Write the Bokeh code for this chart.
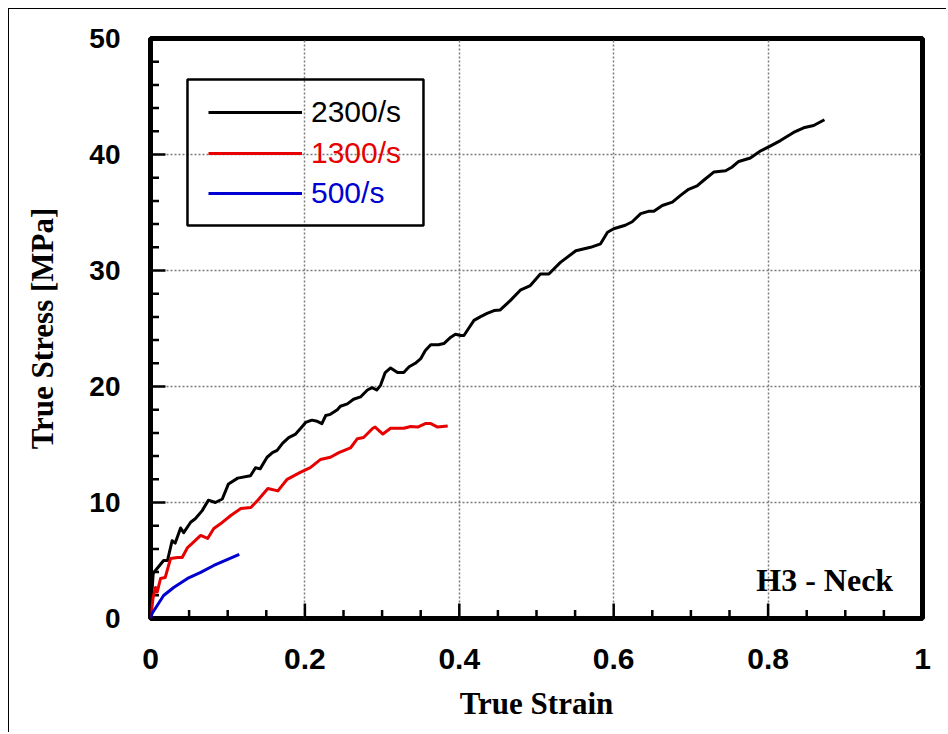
from bokeh.plotting import figure
from bokeh.models import (FixedTicker, Legend, LegendItem, BoxAnnotation, Label)
from bokeh.embed import file_html
from bokeh.resources import INLINE

# ---------------- data ----------------
x_2300 = [0.0, 0.002, 0.0035, 0.017, 0.022, 0.028, 0.032, 0.039, 0.043, 0.052, 0.058,
          0.067, 0.075, 0.084, 0.093, 0.101, 0.113, 0.1295, 0.136, 0.142, 0.151, 0.158,
          0.164, 0.171, 0.179, 0.188, 0.194, 0.201, 0.209, 0.216, 0.222, 0.227, 0.233,
          0.242, 0.246, 0.255, 0.263, 0.272, 0.281, 0.287, 0.293, 0.298, 0.304, 0.311,
          0.320, 0.328, 0.335, 0.343, 0.350, 0.356, 0.363, 0.373, 0.380, 0.389, 0.395,
          0.402, 0.406, 0.412, 0.419, 0.427, 0.436, 0.445, 0.453, 0.466, 0.479, 0.492,
          0.505, 0.516, 0.531, 0.551, 0.570, 0.583, 0.592, 0.600, 0.615, 0.624, 0.635,
          0.645, 0.652, 0.663, 0.676, 0.687, 0.697, 0.708, 0.717, 0.730, 0.745, 0.753,
          0.762, 0.777, 0.790, 0.802, 0.816, 0.833, 0.846, 0.859, 0.873]
y_2300 = [0.0, 2.4, 3.9, 5.0, 5.0, 6.7, 6.5, 7.8, 7.4, 8.3, 8.6,
          9.3, 10.2, 10.0, 10.3, 11.6, 12.1, 12.3, 13.0, 12.9, 13.9, 14.3,
          14.5, 15.1, 15.6, 15.9, 16.35, 16.9, 17.1, 17.0, 16.8, 17.5, 17.6,
          18.0, 18.3, 18.5, 18.9, 19.1, 19.7, 19.9, 19.7, 20.1, 21.2, 21.6,
          21.2, 21.2, 21.7, 22.0, 22.4, 23.1, 23.6, 23.6, 23.7, 24.25, 24.5,
          24.4, 24.4, 25.0, 25.7, 26.0, 26.3, 26.55, 26.6, 27.4, 28.3, 28.7,
          29.7, 29.7, 30.7, 31.7, 32.0, 32.3, 33.3, 33.6, 33.9, 34.2, 34.9,
          35.1, 35.1, 35.6, 35.9, 36.5, 37.0, 37.3, 37.8, 38.5, 38.6, 38.9,
          39.4, 39.7, 40.3, 40.7, 41.2, 41.9, 42.3, 42.5, 43.0]

x_1300 = [0.0, 0.0035, 0.0065, 0.0087, 0.013, 0.019, 0.026, 0.035, 0.041, 0.048, 0.054,
          0.065, 0.074, 0.082, 0.093, 0.104, 0.117, 0.130, 0.139, 0.152, 0.165, 0.177,
          0.194, 0.207, 0.220, 0.233, 0.244, 0.259, 0.268, 0.276, 0.288, 0.291, 0.301,
          0.311, 0.328, 0.337, 0.346, 0.356, 0.363, 0.372, 0.378, 0.385]
y_1300 = [0.0, 1.84, 2.67, 2.27, 3.45, 3.53, 5.17, 5.26, 5.26, 6.12, 6.47,
          7.16, 6.90, 7.76, 8.28, 8.88, 9.48, 9.57, 10.2, 11.2, 11.0, 12.0,
          12.6, 13.0, 13.7, 13.9, 14.3, 14.7, 15.5, 15.6, 16.4, 16.5, 15.9,
          16.4, 16.4, 16.55, 16.5, 16.8, 16.8, 16.5, 16.55, 16.6]

x_500 = [0.0, 0.002, 0.0087, 0.017, 0.030, 0.048, 0.065, 0.082, 0.100, 0.115]
y_500 = [0.0, 0.43, 1.12, 1.98, 2.67, 3.45, 3.97, 4.57, 5.09, 5.52]

series_names = ["2300/s", "1300/s", "500/s"]
series_colors = ["#000000", "#e60000", "#0000d0"]

x_ticks = [0, 0.2, 0.4, 0.6, 0.8, 1.0]
x_tick_labels = ["0", "0.2", "0.4", "0.6", "0.8", "1"]
x_minor = [round(i * 0.05, 2) for i in range(21)]
y_ticks = [0, 10, 20, 30, 40, 50]
y_minor = [i * 2 for i in range(26)]

annotation_text = "H3 - Neck"

# ---------------- figure ----------------
X0, X1, Y0, Y1 = 0.0, 1.0, 0.0, 50.0
FRAME_W, FRAME_H = 772, 580
p = figure(width=938, height=724, x_range=(X0, X1), y_range=(Y0, Y1),
           output_backend="svg", toolbar_location=None,
           min_border_left=141, min_border_right=25, min_border_top=29,
           min_border_bottom=724 - 29 - FRAME_H)
p.margin = (8, 0, 0, 8)
p.styles = {"border-top": "1.5px solid black", "border-left": "1.5px solid black"}
p.background_fill_color = "white"
p.border_fill_color = "white"
p.outline_line_color = "black"
p.outline_line_width = 5

for ax in (p.xaxis[0], p.yaxis[0]):
    ax.axis_line_color = None
    ax.major_tick_in = 0
    ax.major_tick_out = 0
    ax.minor_tick_line_color = None
    ax.major_tick_line_color = None
    ax.major_label_text_font = "Liberation Sans"
    ax.major_label_text_font_style = "bold"
    ax.major_label_text_color = "black"
    ax.axis_label_text_font = "Liberation Serif"
    ax.axis_label_text_font_style = "bold"
    ax.axis_label_text_font_size = "31px"
    ax.axis_label_text_color = "black"

p.xaxis[0].ticker = FixedTicker(ticks=x_ticks, minor_ticks=x_minor)
p.xaxis[0].major_label_overrides = {t: l for t, l in zip(x_ticks, x_tick_labels)}
p.xaxis[0].major_label_text_font_size = "30px"
p.xaxis[0].major_label_standoff = 26
p.xaxis[0].axis_label = "True Strain"
p.xaxis[0].axis_label_standoff = 14

p.yaxis[0].ticker = FixedTicker(ticks=y_ticks, minor_ticks=y_minor)
p.yaxis[0].major_label_text_font_size = "28px"
p.yaxis[0].major_label_standoff = 26
p.yaxis[0].axis_label = "True Stress [MPa]"
p.yaxis[0].axis_label_standoff = 26

p.xgrid[0].ticker = FixedTicker(ticks=x_ticks)
p.ygrid[0].ticker = FixedTicker(ticks=y_ticks)
for g in (p.xgrid[0], p.ygrid[0]):
    g.grid_line_color = "#7a7a7a"
    g.grid_line_dash = "2 2"
    g.grid_line_width = 1.5

# inward ticks (lengths in px converted to data units)
MAJ, MIN = 15.0, 8.5
dx = (X1 - X0) / FRAME_W
dy = (Y1 - Y0) / FRAME_H
xt = [t for t in x_minor if X0 < t < X1]
xt_len = [(MAJ if any(abs(t - m) < 1e-9 for m in x_ticks) else MIN) * dy for t in xt]
p.segment(x0=xt, y0=[Y0] * len(xt), x1=xt, y1=[Y0 + l for l in xt_len],
          line_color="black", line_width=2.5)
yt = [t for t in y_minor if Y0 < t < Y1]
yt_len = [(MAJ if t in y_ticks else MIN) * dx for t in yt]
p.segment(x0=[X0] * len(yt), y0=yt, x1=[X0 + l for l in yt_len], y1=yt,
          line_color="black", line_width=2.5)

r1 = p.line(x_2300, y_2300, line_color=series_colors[0], line_width=3, line_join="round")
r2 = p.line(x_1300, y_1300, line_color=series_colors[1], line_width=3, line_join="round")
r3 = p.line(x_500, y_500, line_color=series_colors[2], line_width=3, line_join="round")

# legend box
p.add_layout(BoxAnnotation(left=0.0479, right=0.3536, bottom=33.88, top=46.47,
                           fill_alpha=0, line_color="black", line_width=2.5,
                           line_alpha=1))

legend_rows_y = [486, 445, 405]
for r, name, col, ly in zip([r1, r2, r3], series_names, series_colors, legend_rows_y):
    lg = Legend(items=[LegendItem(label=name, renderers=[r])], location=(58, ly),
                glyph_width=94, glyph_height=40, label_height=40,
                label_standoff=9, padding=0, margin=0, spacing=0,
                border_line_color=None, background_fill_alpha=0,
                label_text_font="Liberation Sans", label_text_font_size="30px",
                label_text_color=col)
    p.add_layout(lg)

p.add_layout(Label(x=0.962, y=3.36, text=annotation_text, text_align="right",
                   text_baseline="alphabetic", text_font="Liberation Serif",
                   text_font_style="bold", text_font_size="32px", text_color="black"))

open("out.html", "w").write(file_html(p, INLINE))
